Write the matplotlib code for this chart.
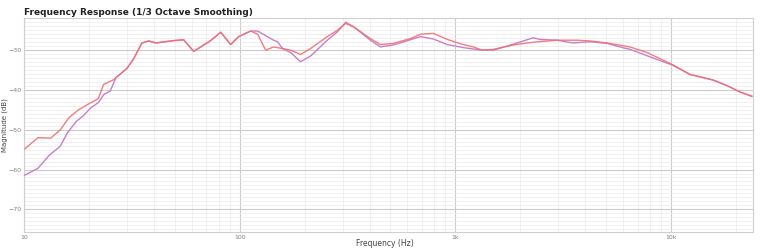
import matplotlib
matplotlib.use("Agg")
import matplotlib.pyplot as plt
from matplotlib.ticker import FixedLocator, FixedFormatter, MultipleLocator, LogLocator, NullFormatter

title = "Frequency Response (1/3 Octave Smoothing)"

red_freq = [10.1, 11.6, 13.3, 14.7, 16.2, 17.8, 19.8, 22.1, 23.4, 26.1, 28.1, 30.0, 32.3, 35.2, 37.9,
            40.8, 49.5, 55, 61.2, 73.4, 81.7, 90.8, 98.9, 112.4, 121.2, 131.9, 143.7, 158, 172.2, 191.6,
            213, 255, 284, 310, 337, 404, 449, 516, 619, 689, 791, 918, 1054, 1211, 1334, 1500, 1857,
            2297, 2967, 3673, 4217, 5058, 5995, 6460, 7740, 9180, 10110, 12250, 15640, 18160, 20860, 23710]
red_db = [-54.8, -52.0, -52.1, -50.1, -46.9, -45.1, -43.6, -42.2, -38.6, -37.4, -35.9, -34.6, -32.1, -28.2, -27.7,
          -28.2, -27.6, -27.4, -30.3, -27.6, -25.5, -28.6, -26.6, -25.2, -26.0, -30.0, -29.2, -29.6, -30.0, -31.1,
          -29.6, -26.6, -25.0, -23.3, -24.1, -27.1, -28.6, -28.3, -27.1, -26.0, -25.8, -27.3, -28.4, -29.2, -30.0, -29.8, -28.7,
          -28.0, -27.5, -27.5, -27.7, -28.2, -28.9, -29.2, -30.6, -32.5, -33.6, -36.1, -37.5, -38.9, -40.5, -41.6]

purple_freq = [10.1, 11.6, 13.1, 14.7, 15.9, 17.4, 19.0, 20.4, 22.1, 23.5, 25.1, 26.7, 28.1, 30.0, 32.3, 35.2, 37.9,
               40.8, 49.5, 55, 61.2, 73.4, 81.7, 90.8, 98.9, 112.4, 121.2, 143.7, 150, 158, 172.2, 191.6,
               213, 255, 284, 310, 337, 404, 449, 516, 689, 791, 918, 1100, 1334, 1500, 1857,
               2297, 2473, 2967, 3500, 4217, 5058, 5995, 6460, 7740, 9180, 10110, 12250, 15640, 18160, 20860, 23710]
purple_db = [-61.4, -59.7, -56.4, -54.2, -50.8, -48.0, -46.3, -44.5, -43.2, -41.1, -40.3, -36.9, -35.9, -34.6, -32.1, -28.2, -27.7,
             -28.2, -27.6, -27.4, -30.3, -27.6, -25.5, -28.6, -26.6, -25.2, -25.2, -27.5, -27.9, -29.6, -30.6, -32.9,
             -31.5, -27.5, -25.4, -23.0, -24.1, -27.5, -29.2, -28.7, -26.6, -27.2, -28.6, -29.4, -30.0, -30.0, -28.5,
             -26.9, -27.3, -27.5, -28.2, -27.9, -28.3, -29.4, -29.8, -31.4, -32.9, -33.7, -36.1, -37.5, -38.9, -40.5, -41.6]

x_ticks = [10, 100, 1000, 10000]
x_labels = ["10", "100", "1k", "10k"]
y_ticks = [-70, -60, -50, -40, -30]

fig = plt.figure(figsize=(7.7, 2.52), dpi=100)
ax = fig.add_axes([24/770, 1-232/252, (753-24)/770, (232-18.3)/252])

ax.plot(purple_freq, purple_db, color="#c77fca", lw=1.0, zorder=3)
ax.plot(red_freq, red_db, color="#f06f72", lw=1.0, alpha=0.9, zorder=4)

ax.set_xscale("log")
ax.set_xlim(10, 24000)
ax.set_ylim(-75.7, -22.0)

ax.xaxis.set_major_locator(FixedLocator(x_ticks))
ax.xaxis.set_major_formatter(FixedFormatter(x_labels))
ax.xaxis.set_minor_locator(LogLocator(base=10, subs=range(2, 10), numticks=20))
ax.xaxis.set_minor_formatter(NullFormatter())
ax.yaxis.set_major_locator(FixedLocator(y_ticks))
ax.yaxis.set_minor_locator(MultipleLocator(1))

ax.grid(which="major", color="#cccccc", lw=0.8)
ax.grid(which="minor", color="#ebebeb", lw=0.5)
ax.set_axisbelow(True)

ax.tick_params(which="both", length=0, labelsize=4.5, labelcolor="#808080", pad=2)
for s in ax.spines.values():
    s.set_color("#d0d0d0")
    s.set_linewidth(0.8)

fig.text(385/770, 1-244/252, "Frequency (Hz)", fontsize=5.5, color="#444444", ha="center", va="center")
fig.text(4.5/770, 1-125/252, "Magnitude (dB)", fontsize=5, color="#444444", ha="center", va="center", rotation=90)
fig.text(24/770, 1-12.5/252, title, fontsize=6.5, fontweight="bold", color="#222222", va="center", ha="left")

fig.savefig("out.png", dpi=100, facecolor="white")
